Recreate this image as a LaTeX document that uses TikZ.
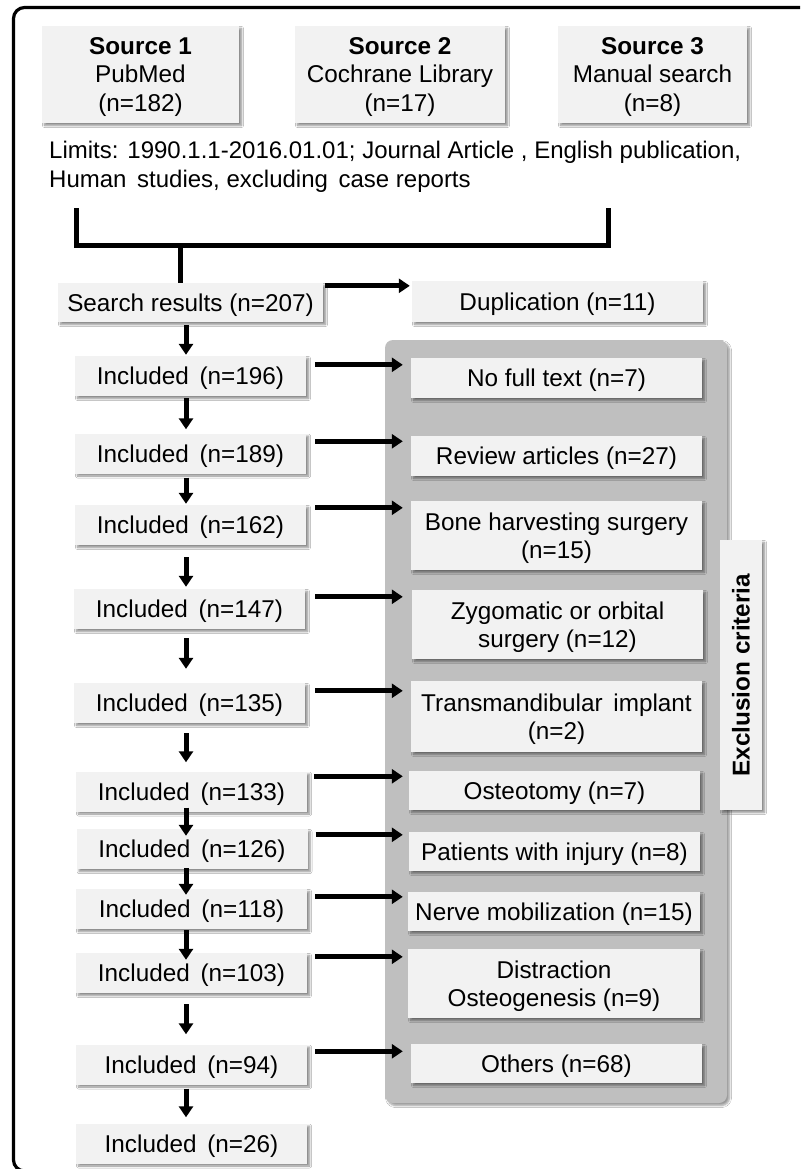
\documentclass[tikz,border=0pt]{standalone}
\usepackage{fontspec}
\setmainfont{Liberation Sans}
\usetikzlibrary{arrows.meta,calc,shadows.blur}
\definecolor{boxfill}{HTML}{F2F2F2}
\definecolor{panelfill}{HTML}{BFBFBF}
\newcommand{\wsp}{\hspace{4pt} }
\begin{document}
\begin{tikzpicture}[x=1pt,y=-1pt,
  font=\fontsize{24.3}{28.5}\selectfont,
  box/.style={fill=boxfill, inner sep=0pt, align=center, text depth=0pt,
    blur shadow={shadow xshift=2.5pt, shadow yshift=-2.5pt, shadow blur steps=6, shadow blur radius=2pt, shadow opacity=45}},
  incl/.style={box, minimum width=231pt, minimum height=40pt},
  panelbox/.style={fill=panelfill, rounded corners=8pt, inner sep=0pt,
    blur shadow={shadow xshift=2.5pt, shadow yshift=-2.5pt, shadow blur steps=6, shadow blur radius=2pt, shadow opacity=40}},
  arr/.style={line width=5pt, -{Triangle[length=11pt,width=14pt]}},
  bracket/.style={line width=5pt}
]
\clip (0,0) rectangle (800,1169);
\useasboundingbox (0,0) rectangle (800,1169);
\fill[white] (0,0) rectangle (800,1169);
% outer frame
\draw[line width=3.2pt, rounded corners=11pt] (13.5,7.5) rectangle (830,1171);

% sources
\node[box, minimum width=197pt, minimum height=97pt] (s1) at (140.5,74.5) {\textbf{Source 1}\\PubMed\\(n=182)};
\node[box, minimum width=210pt, minimum height=97pt] (s2) at (400,74.5) {\textbf{Source 2}\\Cochrane Library\\(n=17)};
\node[box, minimum width=189pt, minimum height=97pt] (s3) at (652.5,74.5) {\textbf{Source 3}\\Manual search\\(n=8)};

\node[anchor=west, align=left, inner sep=0pt, font=\fontsize{24}{28.5}\selectfont] (limits) at (49,167) {Limits: 1990.1.1-2016.01.01; Journal Article , English publication,\\Human\wsp studies, excluding\wsp case reports};

% bracket
\coordinate (bl) at (76,208);
\coordinate (br) at (608,208);
\coordinate (bm) at (180,245);
\node[box, minimum width=265pt, minimum height=39pt] (search) at (190.5,302.5) {Search results (n=207)};
\draw[bracket] (bl) |- (bm) -| (br);
\draw[bracket] (bm) -- (bm |- search.north);

\node[box, minimum width=291pt, minimum height=41pt] (dup) at (557.5,301.5) {Duplication (n=11)};
\draw[arr] ($(search.north east)+(2,3)$) coordinate (t0) -- ($(t0 -| dup.west)+(-2,0)$);

% panel
\node[panelbox, minimum width=342pt, minimum height=763pt] (panel) at (556,721.5) {};

% left column
\node[incl] (i196) at (190.5,376) {Included\wsp (n=196)};
\node[incl] (i189) at (190.5,453.5) {Included\wsp (n=189)};
\node[incl] (i162) at (190.5,525) {Included\wsp (n=162)};
\node[incl] (i147) at (189.5,609) {Included\wsp (n=147)};
\node[incl] (i135) at (189.5,703) {Included\wsp (n=135)};
\node[incl] (i133) at (191.5,791.5) {Included\wsp (n=133)};
\node[incl] (i126) at (192,849) {Included\wsp (n=126)};
\node[incl] (i118) at (191.5,909) {Included\wsp (n=118)};
\node[incl] (i103) at (191.5,973) {Included\wsp (n=103)};
\node[incl] (i94) at (191.5,1064.5) {Included\wsp (n=94)};
\node[incl] (i26) at (191.5,1143.5) {Included\wsp (n=26)};

% right column
\node[box, minimum width=291pt, minimum height=40pt] (nofull) at (556.5,378) {No full text (n=7)};
\node[box, minimum width=291pt, minimum height=40pt] (review) at (556.5,456) {Review articles (n=27)};
\node[box, minimum width=291pt, minimum height=69pt] (bone) at (556.5,535.5) {Bone harvesting surgery\\(n=15)};
\node[box, minimum width=291pt, minimum height=69pt] (zygo) at (557.5,624.5) {Zygomatic or orbital\\surgery (n=12)};
\node[box, minimum width=291pt, minimum height=71pt] (trans) at (556.5,716.5) {Transmandibular\wsp implant\\(n=2)};
\node[box, minimum width=291pt, minimum height=39pt] (osteo) at (554.5,790.5) {Osteotomy (n=7)};
\node[box, minimum width=291pt, minimum height=39pt] (patients) at (554.5,851.5) {Patients with injury (n=8)};
\node[box, minimum width=292pt, minimum height=39pt] (nerve) at (554,911.5) {Nerve mobilization (n=15)};
\node[box, minimum width=292pt, minimum height=69pt] (distr) at (554,983.5) {Distraction\\Osteogenesis (n=9)};
\node[box, minimum width=291pt, minimum height=39pt] (others) at (556.5,1063.5) {Others (n=68)};

\node[box, text depth=, minimum width=42pt, minimum height=270pt] (excl) at (741,675) {\rotatebox{90}{\textbf{Exclusion criteria}}};

% down arrows
\draw[arr] ($(search.south)+(-4.5,3)$) -- ($(i196.north)+(-4.5,-1)$);
\draw[arr] ($(i196.south)+(-4.5,2)$) -- ($(i189.north)+(-4.5,-4)$);
\draw[arr] ($(i189.south)+(-4.5,4)$) -- ($(i162.north)+(-4.5,-1)$);
\draw[arr] ($(i162.south)+(-4.5,12)$) -- ($(i147.north)+(-3.5,-2)$);
\draw[arr] ($(i147.south)+(-3.5,9)$) -- ($(i135.north)+(-3.5,-14)$);
\draw[arr] ($(i135.south)+(-3.5,10)$) -- ($(i133.north)+(-5.5,-9)$);
\draw[arr] ($(i133.south)+(-5.5,-4)$) -- ($(i126.north)+(-6,7)$);
\draw[arr] ($(i126.south)+(-6,-1)$) -- ($(i118.north)+(-5.5,6)$);
\draw[arr] ($(i118.south)+(-5.5,1)$) -- ($(i103.north)+(-5.5,7)$);
\draw[arr] ($(i103.south)+(-5.5,11)$) -- ($(i94.north)+(-5.5,-10)$);
\draw[arr] ($(i94.south)+(-5.5,4)$) -- ($(i26.north)+(-5.5,-6)$);

% right arrows
\draw[arr] ($(i196.north east)+(9,9)$) coordinate (t1) -- ($(t1 -| nofull.west)+(-8,0)$);
\draw[arr] ($(i189.north east)+(9,8)$) coordinate (t2) -- ($(t2 -| review.west)+(-8,0)$);
\draw[arr] ($(i162.north east)+(9,3)$) coordinate (t3) -- ($(t3 -| bone.west)+(-8,0)$);
\draw[arr] ($(i147.north east)+(10,8)$) coordinate (t4) -- ($(t4 -| zygo.west)+(-9,0)$);
\draw[arr] ($(i135.north east)+(10,8)$) coordinate (t5) -- ($(t5 -| trans.west)+(-8,0)$);
\draw[arr] ($(i133.north east)+(7,5)$) coordinate (t6) -- ($(t6 -| osteo.west)+(-6,0)$);
\draw[arr] ($(i126.north east)+(8,6)$) coordinate (t7) -- ($(t7 -| patients.west)+(-6,0)$);
\draw[arr] ($(i118.north east)+(8,8)$) coordinate (t8) -- ($(t8 -| nerve.west)+(-5,0)$);
\draw[arr] ($(i103.north east)+(8,4)$) coordinate (t9) -- ($(t9 -| distr.west)+(-5,0)$);
\draw[arr] ($(i94.north east)+(8,7)$) coordinate (t10) -- ($(t10 -| others.west)+(-8,0)$);
\end{tikzpicture}
\end{document}
